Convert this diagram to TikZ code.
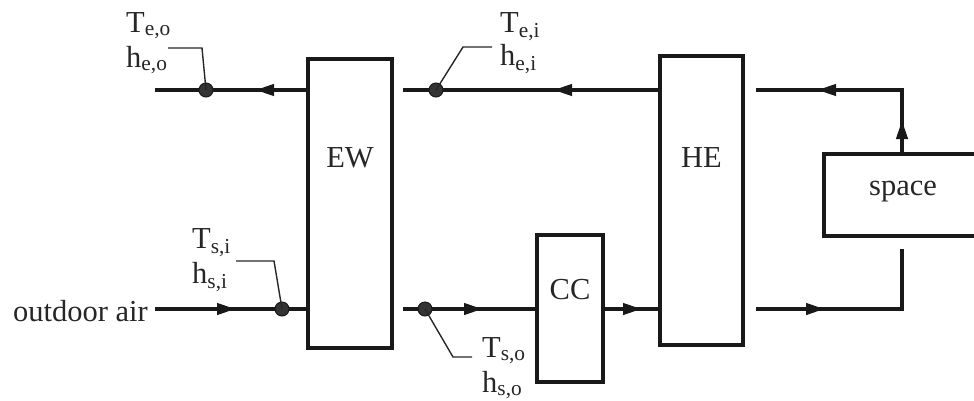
\documentclass[tikz,border=0pt]{standalone}
\usepackage{fontspec}
\setmainfont{Liberation Serif}
\usetikzlibrary{arrows.meta,decorations.markings}
\begin{document}
\begin{tikzpicture}[x=1pt,y=-1pt,
  every node/.style={font=\fontsize{30.5}{36}\selectfont, text=black!85},
  box/.style={draw=black!90,line width=4pt,fill=none,inner sep=0pt},
  flow/.style={draw=black!90,line width=4pt},
  arr/.style={postaction={decorate,decoration={markings,
      mark=at position #1pt with {\arrow{Triangle[length=19pt,width=11pt]}}}}},
  leader/.style={draw=black!85,line width=1.4pt},
  dot/.style={circle,fill=black!80,draw=black!90,line width=1pt,minimum size=14pt,inner sep=0pt},
  lbl/.style={anchor=base west,inner sep=0pt}]
\useasboundingbox (0,0) rectangle (974,400);

% boxes
\node[box,minimum width=84pt,minimum height=289pt] (ew) at (350,203.5) {};
\node[box,minimum width=83pt,minimum height=289pt] (he) at (701.5,200.5) {};
\node[box,minimum width=66pt,minimum height=147pt] (cc) at (570,308.5) {};
\node[box,minimum width=154pt,minimum height=82pt] (sp) at (901,195) {};
\node (ewt) at (350,158) {EW};
\node (het) at (701.5,158) {HE};
\node (cct) at (570,290) {CC};
\node (spt) at (903,192) {space};

% junction coordinates
\coordinate (deoP) at (206,90);
\coordinate (deiP) at (436,90);
\coordinate (dsiP) at (282,309);
\coordinate (dsoP) at (425,309);

% top (exhaust) line, right to left
\coordinate (sTop) at (902,154);
\coordinate (rTop) at (902,90);
\coordinate (hOutT) at (756,90);
\draw[flow,arr=34,arr=149] (sTop) -- (rTop) -- (hOutT);
\coordinate (eiStart) at (403,90);
\draw[flow,arr=105] (he.west |- deiP) -- (eiStart);
\coordinate (eoEnd) at (155,90);
\draw[flow,arr=51] (ew.west |- deoP) -- (eoEnd);

% bottom (supply) line, left to right
\node[anchor=base east,inner sep=0pt] (oa) at (148,321) {outdoor air};
\coordinate (oaStart) at (155,309);
\draw[flow,arr=81] (oaStart) -- (ew.west |- dsiP);
\coordinate (soStart) at (403,309);
\draw[flow,arr=80] (soStart) -- (cc.west |- dsoP);
\draw[flow,arr=37] (cc.east |- dsoP) -- (he.west |- dsoP);
\coordinate (hOutB) at (756,309);
\coordinate (rBot) at (902,309);
\coordinate (sBot) at (902,249);
\draw[flow,arr=69] (hOutB) -- (rBot) -- (sBot);

% measuring points
\node[dot] (deo) at (deoP) {};
\node[dot] (dei) at (deiP) {};
\node[dot] (dsi) at (dsiP) {};
\node[dot] (dso) at (dsoP) {};

% leaders
\coordinate (leo1) at (202,48);
\coordinate (leo2) at (168,48);
\draw[leader] (deo.center) -- (leo1) -- (leo2);
\coordinate (lei1) at (463,47);
\coordinate (lei2) at (492,47);
\draw[leader] (dei.center) -- (lei1) -- (lei2);
\coordinate (lsi1) at (274,261);
\coordinate (lsi2) at (236,261);
\draw[leader] (dsi.center) -- (lsi1) -- (lsi2);
\coordinate (lso1) at (453,357);
\coordinate (lso2) at (472,357);
\draw[leader] (dso.center) -- (lso1) -- (lso2);

% labels
\node[lbl] (Teo) at (126,32) {T\textsubscript{e,o}};
\node[lbl] (heo) at (126,67) {h\textsubscript{e,o}};
\node[lbl] (Tei) at (500,32) {T\textsubscript{e,i}};
\node[lbl] (hei) at (500,65) {h\textsubscript{e,i}};
\node[lbl] (Tsi) at (192,248) {T\textsubscript{s,i}};
\node[lbl] (hsi) at (192,283) {h\textsubscript{s,i}};
\node[lbl] (Tso) at (482,357) {T\textsubscript{s,o}};
\node[lbl] (hso) at (482,392) {h\textsubscript{s,o}};
\end{tikzpicture}
\end{document}
